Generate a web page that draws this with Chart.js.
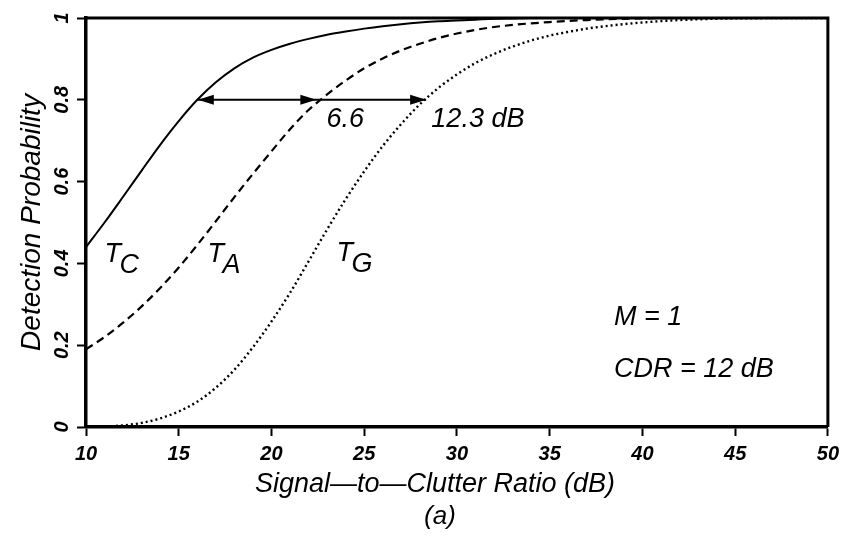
<!DOCTYPE html>
<html>
<head>
<meta charset="utf-8">
<script src="https://cdn.jsdelivr.net/npm/chart.js@4/dist/chart.umd.min.js"></script>
<style>
  html, body { margin: 0; padding: 0; background: #fff; }
  #wrap { width: 845px; height: 538px; position: relative; }
</style>
</head>
<body>
<div id="wrap"><canvas id="c" width="845" height="538"></canvas></div>
<script>
// ---- data ----
const snr = [10,11,12,13,14,15,16,17,18,19,20,21,22,23,24,25,26,27,28,29,30,31,32,33,34,35,36,37,38,39,40,42,45,50];
const probTC = [0.44,0.50,0.563,0.627,0.69,0.748,0.80,0.843,0.877,0.903,0.922,0.937,0.949,0.959,0.967,0.974,0.98,0.985,0.989,0.992,0.994,0.996,0.998,0.999,1,1,1,1,1,1,1,1,1,1];
const probTA = [0.19,0.22,0.255,0.295,0.34,0.39,0.445,0.503,0.562,0.619,0.674,0.728,0.775,0.813,0.847,0.877,0.901,0.921,0.937,0.951,0.962,0.971,0.978,0.983,0.987,0.99,0.993,0.995,0.997,0.998,0.999,1,1,1];
const probTG = [0,0.001,0.004,0.01,0.021,0.038,0.062,0.096,0.14,0.195,0.258,0.328,0.405,0.483,0.557,0.625,0.687,0.741,0.789,0.829,0.862,0.89,0.912,0.93,0.945,0.957,0.966,0.974,0.98,0.985,0.989,0.995,0.999,1];
const xTickValues = [10,15,20,25,30,35,40,45,50];
const yTickValues = [0,0.2,0.4,0.6,0.8,1];
const yTickLabels = ['0','0.2','0.4','0.6','0.8','1'];
const xTitle = 'Signal\u2014to\u2014Clutter Ratio (dB)';
const yTitle = 'Detection Probability';
const caption = '(a)';
// annotation content (anchored in data coordinates)
const curveNames = [
  { main: 'T', sub: 'C', x: 11.0, y: 0.403 },
  { main: 'T', sub: 'A', x: 16.55, y: 0.403 },
  { main: 'T', sub: 'G', x: 23.5, y: 0.405 }
];
const arrowLevel = 0.8;
const arrowFrom = 16.03, arrowMid = 22.42, arrowTo = 28.34;
const gapNotes = [
  { text: '6.6', x: 22.97, y: 0.733 },
  { text: '12.3 dB', x: 28.62, y: 0.733 }
];
const infoNotes = [
  { text: 'M = 1', x: 38.47, y: 0.249 },
  { text: 'CDR = 12 dB', x: 38.47, y: 0.122 }
];

const FONT = '"Liberation Sans", Arial, sans-serif';
const toXY = arr => snr.map((s, i) => ({ x: s, y: arr[i] }));

const decor = {
  id: 'decor',
  afterDraw(chart) {
    const ctx = chart.ctx, xs = chart.scales.x, ys = chart.scales.y, a = chart.chartArea;
    ctx.save();
    // frame (top + right)
    ctx.strokeStyle = '#000';
    ctx.lineWidth = 3;
    ctx.beginPath();
    ctx.moveTo(a.left, a.top); ctx.lineTo(a.right, a.top); ctx.lineTo(a.right, a.bottom);
    ctx.stroke();

    // y tick labels (rotated)
    ctx.fillStyle = '#000';
    ctx.font = 'italic bold 20px ' + FONT;
    ctx.textAlign = 'center';
    ctx.textBaseline = 'alphabetic';
    yTickValues.forEach((v, i) => {
      ctx.save();
      ctx.translate(a.left - 18, ys.getPixelForValue(v));
      ctx.rotate(-Math.PI / 2);
      ctx.fillText(yTickLabels[i], 0, 0);
      ctx.restore();
    });
    // y title
    ctx.save();
    ctx.font = 'italic 28px ' + FONT;
    ctx.translate(a.left - 46, (a.top + a.bottom) / 2);
    ctx.rotate(-Math.PI / 2);
    ctx.fillText(yTitle, 0, 0);
    ctx.restore();
    // x title and caption
    ctx.font = 'italic 27px ' + FONT;
    ctx.fillText(xTitle, 435, 492);
    ctx.font = 'italic 26px ' + FONT;
    ctx.fillText(caption, 440, 524);

    // arrows
    const yA = ys.getPixelForValue(arrowLevel);
    const x0 = xs.getPixelForValue(arrowFrom), x1 = xs.getPixelForValue(arrowMid), x2 = xs.getPixelForValue(arrowTo);
    ctx.lineWidth = 2;
    ctx.beginPath(); ctx.moveTo(x0, yA); ctx.lineTo(x2, yA); ctx.stroke();
    const head = (tx, dir) => {
      ctx.beginPath();
      ctx.moveTo(tx, yA);
      ctx.lineTo(tx - dir * 16, yA - 5);
      ctx.lineTo(tx - dir * 16, yA + 5);
      ctx.closePath();
      ctx.fill();
    };
    head(x0, -1); head(x1, 1); head(x2, 1);

    // notes
    ctx.textAlign = 'left';
    ctx.font = 'italic 27px ' + FONT;
    gapNotes.concat(infoNotes).forEach(n => {
      ctx.fillText(n.text, xs.getPixelForValue(n.x), ys.getPixelForValue(n.y));
    });
    curveNames.forEach(n => {
      const px = xs.getPixelForValue(n.x), py = ys.getPixelForValue(n.y);
      ctx.font = 'italic 27px ' + FONT;
      ctx.fillText(n.main, px, py);
      ctx.fillText(n.sub, px + 15, py + 11);
    });
    ctx.restore();
  }
};

new Chart(document.getElementById('c'), {
  type: 'line',
  data: {
    datasets: [
      { label: 'TC', data: toXY(probTC), borderColor: '#000', borderWidth: 2, pointRadius: 0, cubicInterpolationMode: 'monotone', fill: false },
      { label: 'TA', data: toXY(probTA), borderColor: '#000', borderWidth: 2.2, borderDash: [8, 5], pointRadius: 0, cubicInterpolationMode: 'monotone', fill: false },
      { label: 'TG', data: toXY(probTG), borderColor: '#000', borderWidth: 2.4, borderDash: [2, 3], pointRadius: 0, cubicInterpolationMode: 'monotone', fill: false }
    ]
  },
  options: {
    responsive: false,
    animation: false,
    layout: { padding: { top: 18, right: 16, left: 0, bottom: 0 } },
    plugins: { legend: { display: false }, tooltip: { enabled: false } },
    scales: {
      x: {
        type: 'linear', min: 10, max: 50,
        afterBuildTicks: s => { s.ticks = xTickValues.map(v => ({ value: v })); },
        afterFit: s => { s.height = 111; },
        ticks: { color: '#000', font: { family: FONT, size: 20, style: 'italic', weight: 'bold' }, padding: 6, maxRotation: 0 },
        grid: { drawOnChartArea: false, drawTicks: true, tickLength: 9, tickWidth: 2, tickColor: '#000' },
        border: { display: true, color: '#000', width: 3.5 }
      },
      y: {
        type: 'linear', min: 0, max: 1,
        afterBuildTicks: s => { s.ticks = yTickValues.map(v => ({ value: v })); },
        afterFit: s => { s.width = 86; },
        ticks: { display: false },
        grid: { drawOnChartArea: false, drawTicks: true, tickLength: 9, tickWidth: 2, tickColor: '#000' },
        border: { display: true, color: '#000', width: 3.5 }
      }
    }
  },
  plugins: [decor]
});
</script>
</body>
</html>
